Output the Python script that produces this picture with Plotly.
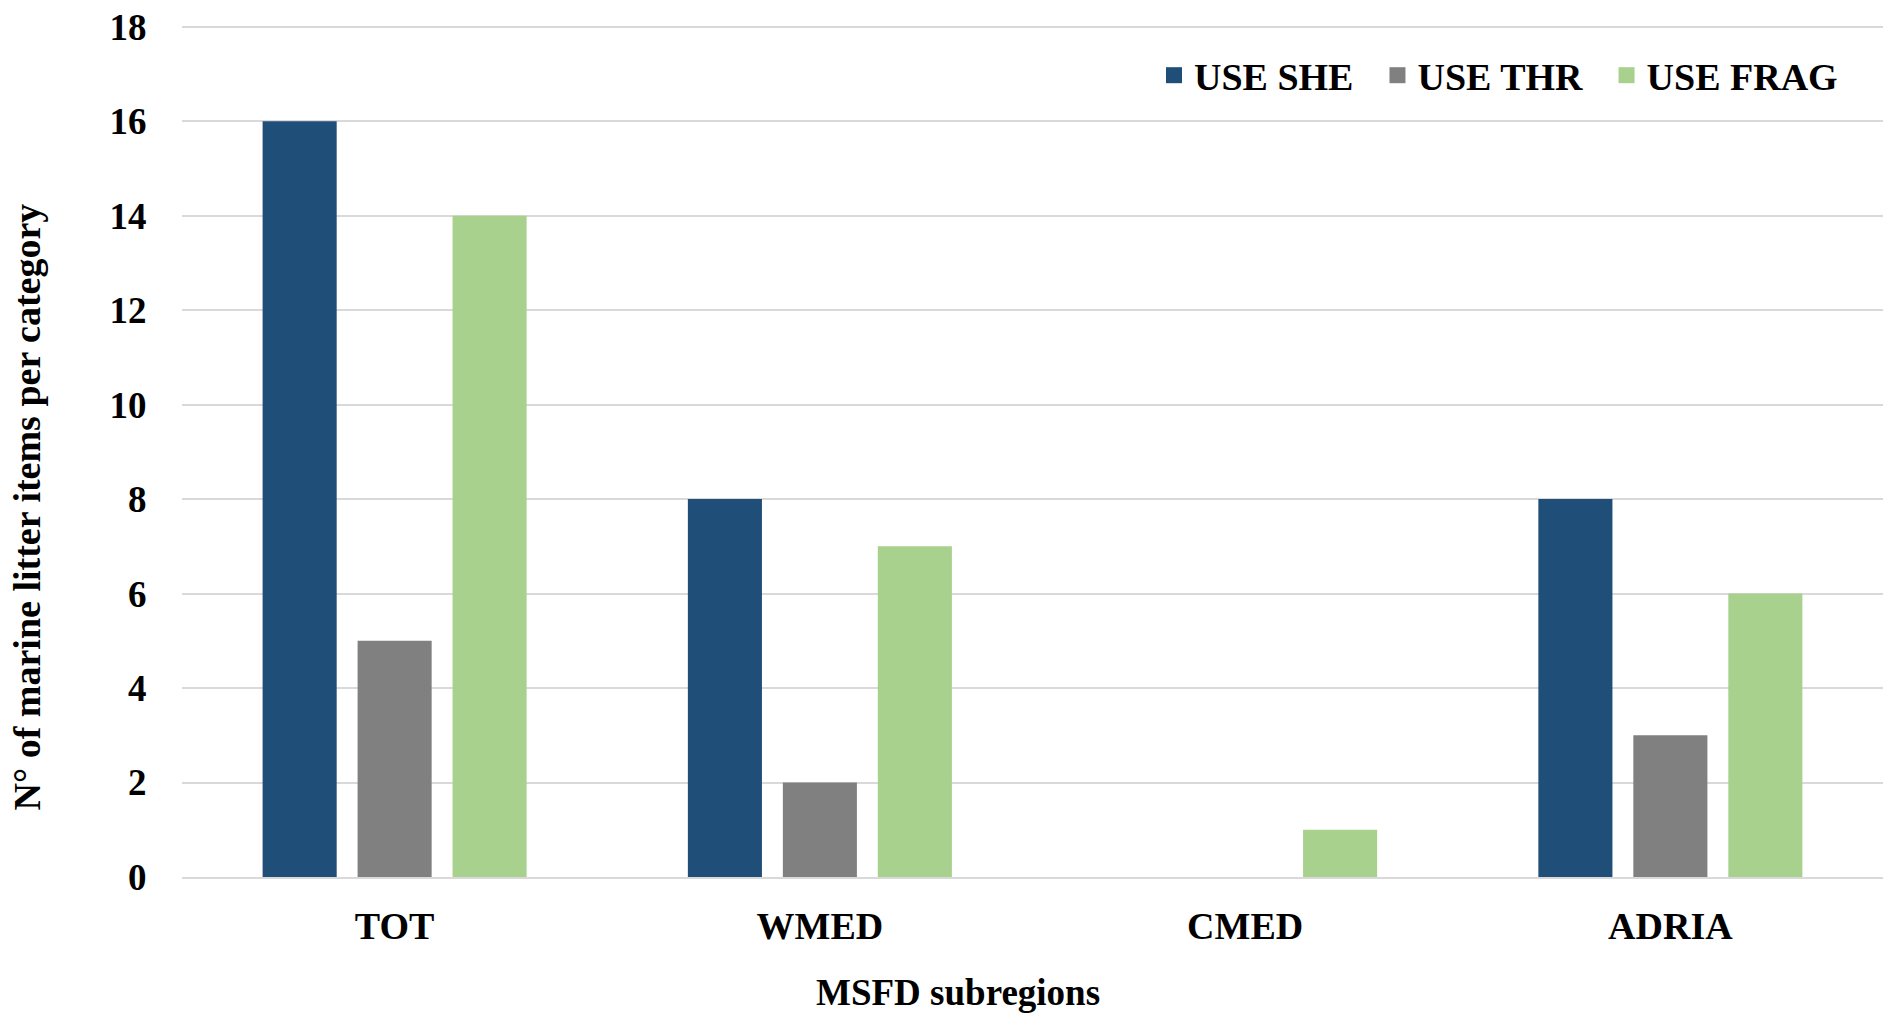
import plotly.graph_objects as go

categories = ["TOT", "WMED", "CMED", "ADRIA"]
use_she = [16, 8, 0, 8]
use_thr = [5, 2, 0, 3]
use_frag = [14, 7, 1, 6]
series_names = ["USE SHE", "USE THR", "USE FRAG"]
colors = ["#1F4E79", "#808080", "#A9D18E"]
y_ticks = [0, 2, 4, 6, 8, 10, 12, 14, 16, 18]

FONT = "Liberation Serif"

fig = go.Figure()
for name, vals, col in zip(series_names, [use_she, use_thr, use_frag], colors):
    fig.add_trace(go.Bar(x=categories, y=vals, name=name, marker_color=col,
                         marker_line_width=0, showlegend=False, legendgroup=name))
    # legend proxy with larger square symbol
    fig.add_trace(go.Scatter(x=[None], y=[None], mode="markers", name=name + "\u00a0\u00a0",
                             legendgroup=name,
                             marker=dict(symbol="square", size=19, color=col)))

W, H = 1890, 1016
YMAX = 18.1
L, R, B = 182, 7, 139
plot_bot_page = H - B
px_per_unit = (plot_bot_page - 18.5) / 18.0
T = int(round(18.5 - (YMAX - 18) * px_per_unit))
ph = H - T - B
pw = W - L - R


def ypaper(page_y):
    return (plot_bot_page - page_y) / ph


def xpaper(page_x):
    return (page_x - L) / pw


fig.update_layout(
    width=W, height=H,
    margin=dict(l=L, r=R, t=T, b=B),
    paper_bgcolor="white", plot_bgcolor="white",
    barmode="group", bargap=0.33, bargroupgap=0.22,
    font=dict(family=FONT, color="black", weight="bold"),
    showlegend=True,
    legend=dict(orientation="h", x=xpaper(1862), xanchor="right", y=ypaper(68),
                yanchor="middle", font=dict(family=FONT, size=38, color="black", weight="bold"),
                bgcolor="rgba(0,0,0,0)", itemwidth=30, traceorder="normal"),
    xaxis=dict(showgrid=False, showline=True, linecolor="#D9D9D9", linewidth=1.5,
               ticks="outside", ticklen=15, tickcolor="rgba(0,0,0,0)",
               tickfont=dict(family=FONT, size=38, color="black", weight="bold")),
    yaxis=dict(range=[0, YMAX], tickvals=y_ticks, showgrid=True,
               gridcolor="#D9D9D9", gridwidth=1.5, zeroline=False, showline=False,
               ticks="outside", ticklen=27, tickcolor="rgba(0,0,0,0)",
               ticklabeloverflow="allow",
               tickfont=dict(family=FONT, size=37, color="black", weight="bold")),
)

fig.add_annotation(text="N° of marine litter items per category", textangle=-90,
                   xref="paper", yref="paper", x=xpaper(27), xanchor="center",
                   y=ypaper(504), yanchor="middle", showarrow=False,
                   font=dict(family=FONT, size=38, color="black", weight="bold"))
fig.add_annotation(text="MSFD subregions",
                   xref="paper", yref="paper", x=xpaper(958), xanchor="center",
                   y=ypaper(994), yanchor="middle", showarrow=False,
                   font=dict(family=FONT, size=37, color="black", weight="bold"))

fig.write_html("out.html", config={"displayModeBar": False},
               post_script="document.body.style.margin='0';")
